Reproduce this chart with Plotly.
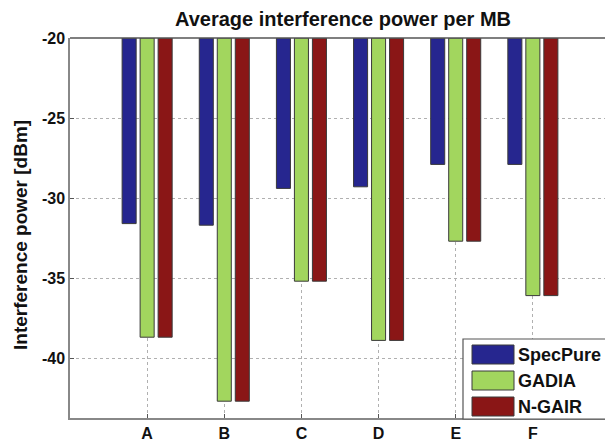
import plotly.graph_objects as go

categories = ["A", "B", "C", "D", "E", "F"]
specpure = [-31.6, -31.7, -29.4, -29.3, -27.9, -27.9]
gadia = [-38.7, -42.7, -35.2, -38.9, -32.7, -36.1]
ngair = [-38.7, -42.7, -35.2, -38.9, -32.7, -36.1]
series_names = ["SpecPure", "GADIA", "N-GAIR"]
colors = ["#26268f", "#a2d65e", "#8a1616"]
baseline = -20
y_ticks = [-40, -35, -30, -25, -20]

xs = list(range(1, len(categories) + 1))
fig = go.Figure()
for name, vals, col in zip(series_names, [specpure, gadia, ngair], colors):
    fig.add_trace(go.Bar(
        x=xs, y=[v - baseline for v in vals], base=baseline, name=name,
        marker=dict(color=col, line=dict(color="#3a3a3a", width=1)),
        showlegend=False,
    ))

# page body has an 8px margin; lay out in window pixels and shift
OFF = 8
SW, SH = 613, 447
W, H = SW - OFF, SH - OFF
pl, pr, pt, pb = 70, 610, 38, 418  # plot box in window pixels
L, R, T, B = pl - OFF, W - (pr - OFF), pt - OFF, H - (pb - OFF)
pw, ph = W - L - R, H - T - B

def px(x):
    return (x - pl) / pw

def py(y):
    return (pb - y) / ph

FONT = "Liberation Sans, Arial"
shapes = [
    dict(type="line", xref="paper", yref="paper", x0=0, x1=1, y0=1, y1=1,
         line=dict(color="#555555", width=1.5)),
    dict(type="rect", xref="paper", yref="paper", x0=px(463), x1=px(613), y0=py(419), y1=py(339),
         line=dict(color="#555555", width=1.2), fillcolor="white", layer="above"),
]
annotations = []
for i, (name, col) in enumerate(zip(series_names, colors)):
    top = 345 + i * 26
    shapes.append(dict(type="rect", xref="paper", yref="paper", x0=px(472), x1=px(514),
                       y0=py(top + 19), y1=py(top), line=dict(color="#3a3a3a", width=1),
                       fillcolor=col, layer="above"))
    annotations.append(dict(xref="paper", yref="paper", x=px(516), y=py(top + 10),
                            text=f"<b>{name}</b>",
                            showarrow=False, xanchor="left", yanchor="middle",
                            font=dict(family=FONT, size=18, color="#111111")))

# y-axis title as annotation for precise placement
annotations.append(dict(xref="paper", yref="paper", x=px(21), y=py(235),
                        text="<b>Interference power [dBm]</b>", textangle=-90,
                        showarrow=False, xanchor="center", yanchor="middle",
                        font=dict(family=FONT, size=19, color="#111111")))

fig.update_layout(
    template="none",
    width=W, height=H,
    margin=dict(l=L, r=R, t=T, b=B, autoexpand=False),
    paper_bgcolor="white", plot_bgcolor="white",
    barmode="group", bargap=0.30, bargroupgap=0.22,
    title=dict(text="<b>Average interference power per MB</b>", x=(343 - OFF) / W, xanchor="center",
               y=1 - (19 - OFF) / H, yanchor="middle",
               font=dict(family=FONT, size=20, color="#111111")),
    font=dict(family=FONT, color="#111111"),
    shapes=shapes, annotations=annotations,
)
fig.update_xaxes(
    automargin=False,
    range=[0, 7], tickmode="array", tickvals=xs,
    ticktext=[f"<b>{c}</b>" for c in categories],
    tickfont=dict(size=16), showline=True, linecolor="#888888", linewidth=1.5,
    ticks="inside", ticklen=4, tickcolor="#555555",
    showgrid=True, gridcolor="#b0b0b0", griddash="dot", gridwidth=1, zeroline=False,
)
fig.update_yaxes(
    automargin=False,
    range=[-43.75, -20], tickmode="array", tickvals=y_ticks,
    ticktext=[f"<b>{t}</b>" for t in y_ticks],
    tickfont=dict(size=16), showline=True, linecolor="#888888", linewidth=1.5,
    ticks="inside", ticklen=4, tickcolor="#555555",
    showgrid=True, gridcolor="#b0b0b0", griddash="dot", gridwidth=1, zeroline=False,
)
fig.write_html("out.html")
